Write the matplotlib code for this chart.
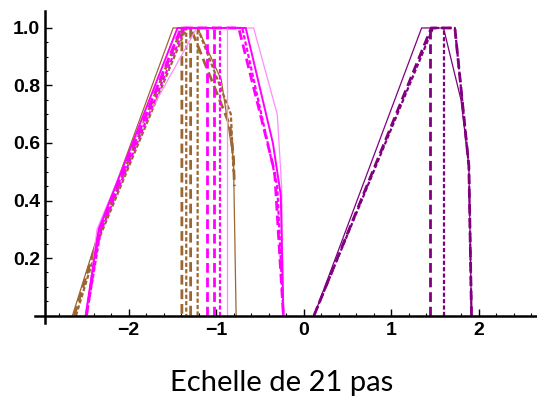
import matplotlib
matplotlib.use("Agg")
import matplotlib.pyplot as plt
from matplotlib.ticker import FixedLocator

plt.rcParams['lines.scale_dashes'] = False

# ---------------- data ----------------
# brown group
brown_solid_x = [-2.64, -2.33, -1.49, -1.21, -0.94, -0.80, -0.77]
brown_solid_y = [0.0, 0.30, 1.0, 1.0, 0.82, 0.54, 0.0]
brown_dash_x = [-2.62, -2.33, -1.39, -1.39]
brown_dash_y = [0.0, 0.29, 1.0, 0.0]
brown_dot_x = [-2.60, -2.32, -1.34, -1.34]
brown_dot_y = [0.0, 0.28, 1.0, 0.0]
brown_dash2_x = [-1.29, -1.29, -0.84, -0.80, -0.79]
brown_dash2_y = [0.0, 1.0, 0.66, 0.55, 0.45]
brown_dot2_x = [-1.21, -1.21, -0.83, -0.80]
brown_dot2_y = [0.0, 1.0, 0.70, 0.50]

# magenta group
mag_solid_x = [-2.49, -2.34, -1.44, -0.66, -0.35, -0.26, -0.23]
mag_solid_y = [0.0, 0.30, 1.0, 1.0, 0.60, 0.42, 0.0]
mag_light_x = [-2.48, -2.36, -1.95, -1.22, -0.57, -0.30, -0.25, -0.23]
mag_light_y = [0.0, 0.30, 0.60, 1.0, 1.0, 0.70, 0.45, 0.0]
mag_dash_x = [-2.48, -2.33, -1.40, -0.74, -0.33, -0.23]
mag_dash_y = [0.0, 0.30, 1.0, 1.0, 0.50, 0.0]
mag_dot_x = [-2.48, -2.32, -1.36, -0.70, -0.30, -0.23]
mag_dot_y = [0.0, 0.29, 1.0, 1.0, 0.45, 0.0]
mag_vdash_x = [-1.10, -1.02]
mag_vdot_x = [-0.95]
mag_vthin_x = [-0.87]

# purple group
pur_solid_x = [0.12, 1.35, 1.60, 1.80, 1.89, 1.92]
pur_solid_y = [0.0, 1.0, 1.0, 0.75, 0.52, 0.0]
pur_dash_x = [0.12, 1.46, 1.73, 1.89, 1.92]
pur_dash_y = [0.0, 1.0, 1.0, 0.52, 0.0]
pur_dot_x = [0.12, 1.48, 1.73, 1.89, 1.92]
pur_dot_y = [0.0, 1.0, 1.0, 0.52, 0.0]
pur_vdash_x = [1.44]
pur_vdot_x = [1.60]

x_ticks = [-2, -1, 0, 1, 2]
x_ticklabels = ["\u22122", "\u22121", "0", "1", "2"]
y_ticks = [0.2, 0.4, 0.6, 0.8, 1.0]
y_ticklabels = ["0.2", "0.4", "0.6", "0.8", "1.0"]
title = "Echelle de 21 pas"

BROWN = "#9c6630"
MAG = "#ff00ff"
MAG_L = "#ff8cff"
PUR = "#800080"

thin = dict(lw=0.9, ls='-')
dash = dict(lw=2.0, dashes=(7, 3.5))
dot = dict(lw=1.6, dashes=(3, 1.6))

fig = plt.figure(figsize=(5.37, 4.01), dpi=100)
W, H = 537, 401
ax = fig.add_axes([35 / W, (H - 323) / H, (537 - 35) / W, (323 - 11) / H])
x0, sx = 303.5, 87.5
ax.set_xlim((35 - x0) / sx, (537 - x0) / sx)
ax.set_ylim(-0.026, 1.059)

# brown
ax.plot(brown_solid_x, brown_solid_y, color=BROWN, **thin)
ax.plot(brown_dash_x, brown_dash_y, color=BROWN, **dash)
ax.plot(brown_dot_x, brown_dot_y, color=BROWN, **dot)
ax.plot(brown_dash2_x, brown_dash2_y, color=BROWN, **dash)
ax.plot(brown_dot2_x, brown_dot2_y, color=BROWN, **dot)
# magenta
ax.plot(mag_light_x, mag_light_y, color=MAG_L, **thin)
ax.plot(mag_solid_x, mag_solid_y, color=MAG, lw=1.4)
ax.plot(mag_dash_x, mag_dash_y, color=MAG, **dash)
ax.plot(mag_dot_x, mag_dot_y, color=MAG, **dot)
for xv in mag_vdash_x:
    ax.plot([xv, xv], [0, 1], color=MAG, **dash)
for xv in mag_vdot_x:
    ax.plot([xv, xv], [0, 1], color=MAG, **dot)
for xv in mag_vthin_x:
    ax.plot([xv, xv], [0, 1], color=MAG_L, **thin)
# purple
ax.plot(pur_solid_x, pur_solid_y, color=PUR, **thin)
ax.plot(pur_dash_x, pur_dash_y, color=PUR, **dash)
ax.plot(pur_dot_x, pur_dot_y, color=PUR, **dot)
for xv in pur_vdash_x:
    ax.plot([xv, xv], [0, 1], color=PUR, **dash)
for xv in pur_vdot_x:
    ax.plot([xv, xv], [0, 1], color=PUR, **dot)

# axes styling (Mathematica-like)
for s in ['top', 'right']:
    ax.spines[s].set_visible(False)
ax.spines['left'].set_position(('data', (44.5 - x0) / sx))
ax.spines['bottom'].set_position(('data', 0))
ax.spines['left'].set_linewidth(1.8)
ax.spines['bottom'].set_linewidth(1.8)

ax.xaxis.set_major_locator(FixedLocator(x_ticks))
ax.xaxis.set_minor_locator(FixedLocator([v / 5 for v in range(-14, 14) if v % 5 != 0]))
ax.yaxis.set_major_locator(FixedLocator(y_ticks))
ax.yaxis.set_minor_locator(FixedLocator([v / 20 for v in range(1, 21) if v % 4 != 0]))
ax.set_yticklabels(y_ticklabels)
ax.set_xticklabels(x_ticklabels)
ax.tick_params(which='major', direction='in', length=5, width=1, labelsize=14, pad=5)
ax.tick_params(which='minor', direction='in', length=2.5, width=0.8)
ax.tick_params(axis='y', pad=3)
for lab in ax.get_xticklabels() + ax.get_yticklabels():
    lab.set_fontfamily('Liberation Sans')
    lab.set_fontweight('bold')

fig.text(282 / W, 1 - 383 / H, title, ha='center', va='center', fontsize=21,
         family='Lato')

fig.savefig("out.png", dpi=100)
